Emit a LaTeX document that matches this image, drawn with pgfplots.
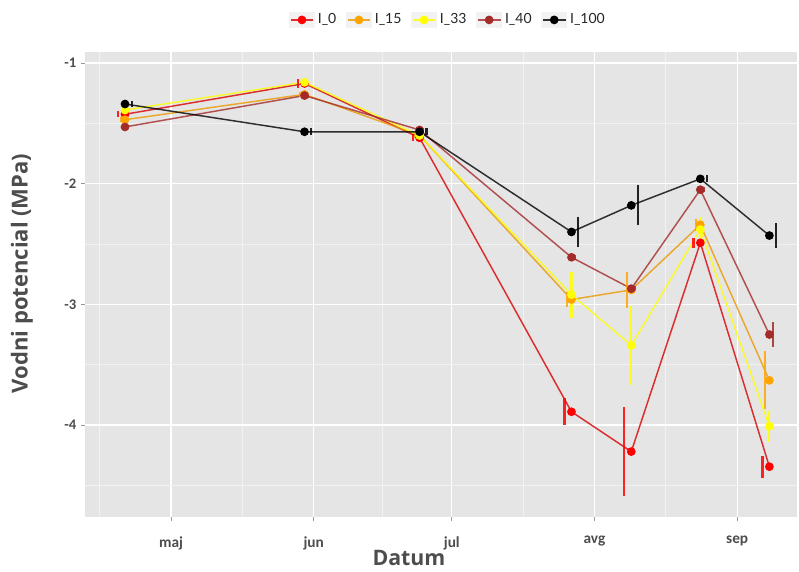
\documentclass[border=0pt]{standalone}
\usepackage{fontspec}
\setmainfont{Lato}
\newfontfamily\tickfont{Carlito}
\newfontfamily\titlefont{Open Sans}
\usepackage{pgfplots}
\pgfplotsset{compat=1.18}
\usepackage{pgfplotstable}

\definecolor{panel}{HTML}{E5E5E5}
\definecolor{minorg}{HTML}{F2F2F2}
\definecolor{txt}{HTML}{4D4D4D}
\definecolor{cRed}{HTML}{FF0000}
\definecolor{cOrange}{HTML}{FFA500}
\definecolor{cYellow}{HTML}{FFFF00}
\definecolor{cBrown}{HTML}{A52A2A}
\definecolor{cBlack}{HTML}{000000}

% day = days since 1 May; eday = dodged position of the error bar
\pgfplotstableread{
day val err eday
-10 -1.425 0.025 -11.5
29 -1.17 0.035 27.5
54 -1.62 0.03 52.5
87 -3.89 0.11 85.5
100 -4.22 0.37 98.5
115 -2.49 0.04 113.5
130 -4.345 0.09 128.5
}\tRed
\pgfplotstableread{
day val err eday
-10 -1.47 0.02 -10.9
29 -1.26 0.02 28.1
54 -1.60 0.02 53.1
87 -2.96 0.06 86.1
100 -2.88 0.15 99.1
115 -2.34 0.05 114.1
130 -3.63 0.24 129.1
}\tOrange
\pgfplotstableread{
day val err eday
-10 -1.39 0.02 -10
29 -1.16 0.02 29
54 -1.60 0.02 54
87 -2.92 0.19 87
100 -3.34 0.33 100
115 -2.38 0.10 115
130 -4.01 0.13 130
}\tYellow
\pgfplotstableread{
day val err eday
-10 -1.53 0.02 -9.3
29 -1.27 0.02 29.7
54 -1.555 0.02 54.7
87 -2.61 0.02 87.7
100 -2.87 0.02 100.7
115 -2.05 0.02 115.7
130 -3.25 0.10 130.7
}\tBrown
\pgfplotstableread{
day val err eday
-10 -1.34 0.025 -8.5
29 -1.57 0.03 30.5
54 -1.57 0.03 55.5
87 -2.40 0.123 88.5
100 -2.18 0.166 101.5
115 -1.96 0.03 116.5
130 -2.43 0.105 131.5
}\tBlack

\begin{document}
\begin{tikzpicture}
\begin{axis}[
  scale only axis, width=534pt, height=348.75pt,
  xmin=-18.69, xmax=136.0, ymin=-4.762, ymax=-0.909,
  axis background/.style={fill=panel},
  axis line style={draw=none},
  xtick={0,31,61,92,123}, xticklabels={maj,jun,jul,avg,sep},
  ytick={-4,-3,-2,-1}, yticklabels={-4,-3,-2,-1},
  minor xtick={-15.5,15.5,46,76.5,107.5},
  minor ytick={-4.5,-3.5,-2.5,-1.5},
  grid=both,
  major grid style={white, line width=1pt},
  minor grid style={minorg, line width=0.5pt},
  tick align=outside, xtick pos=lower, ytick pos=left,
  major tick length=3pt, minor tick length=0pt,
  tick style={color=gray!80, line width=0.6pt},
  yticklabel style={font=\tickfont\bfseries\fontsize{11}{13}\selectfont, text=txt},
  xticklabel style={font=\tickfont\bfseries\fontsize{11.5}{13}\selectfont, text=txt, yshift=-8pt},
  xlabel={Datum}, ylabel={Vodni potencial (MPa)},
  xlabel style={font=\titlefont\bfseries\fontsize{16}{18}\selectfont, text=txt, at={(axis description cs:0.455,-0.089)}, anchor=center},
  ylabel style={font=\titlefont\bfseries\fontsize{16.5}{18}\selectfont, text=txt, at={(axis description cs:-0.0885,0.524)}, anchor=center},
  legend style={at={(axis description cs:0.51,1.069)}, anchor=center, legend columns=5, draw=none, fill=none,
    font=\fontsize{10.5}{12}\selectfont, text=black!85,
    /tikz/every even column/.append style={column sep=5pt}},
  legend image code/.code={\fill[black!5] (-0.03cm,-0.2cm) rectangle (0.63cm,0.2cm);
    \draw[mark repeat=2,mark phase=2,#1] plot coordinates {(0cm,0cm)(0.3cm,0cm)(0.6cm,0cm)};},
  every axis plot/.append style={line width=1.1pt},
  clip=false,
]
% lines with points
\addplot[color=cRed!85!black, draw opacity=0.8, mark=*, mark size=2.7pt, mark options={fill=cRed, draw=cRed, opacity=1}] table[x=day,y=val]{\tRed};
\addlegendentry{I\_0}
\addplot[color=cOrange!92!black, draw opacity=0.8, mark=*, mark size=2.7pt, mark options={fill=cOrange, draw=cOrange, opacity=1}] table[x=day,y=val]{\tOrange};
\addlegendentry{I\_15}
\addplot[color=cYellow, draw opacity=0.8, mark=*, mark size=2.7pt, mark options={fill=cYellow, draw=cYellow, opacity=1}] table[x=day,y=val]{\tYellow};
\addlegendentry{I\_33}
\addplot[color=cBrown, draw opacity=0.8, mark=*, mark size=2.7pt, mark options={fill=cBrown, draw=cBrown, opacity=1}] table[x=day,y=val]{\tBrown};
\addlegendentry{I\_40}
\addplot[color=cBlack, draw opacity=0.8, mark=*, mark size=2.7pt, mark options={fill=cBlack, draw=cBlack, opacity=1}] table[x=day,y=val]{\tBlack};
\addlegendentry{I\_100}
% dodged error bars
\addplot[forget plot, draw=none, mark=none, error bars/.cd, y dir=both, y explicit, error mark=none, error bar style={draw=cRed, line width=1.6pt, draw opacity=0.85}] table[x=eday,y=val,y error=err]{\tRed};
\addplot[forget plot, draw=none, mark=none, error bars/.cd, y dir=both, y explicit, error mark=none, error bar style={draw=cOrange, line width=1.6pt, draw opacity=0.85}] table[x=eday,y=val,y error=err]{\tOrange};
\addplot[forget plot, draw=none, mark=none, error bars/.cd, y dir=both, y explicit, error mark=none, error bar style={draw=cYellow, line width=1.6pt, draw opacity=0.85}] table[x=eday,y=val,y error=err]{\tYellow};
\addplot[forget plot, draw=none, mark=none, error bars/.cd, y dir=both, y explicit, error mark=none, error bar style={draw=cBrown, line width=1.6pt, draw opacity=0.85}] table[x=eday,y=val,y error=err]{\tBrown};
\addplot[forget plot, draw=none, mark=none, error bars/.cd, y dir=both, y explicit, error mark=none, error bar style={draw=cBlack, line width=1.6pt, draw opacity=0.85}] table[x=eday,y=val,y error=err]{\tBlack};
\end{axis}
\pgfresetboundingbox
\path[use as bounding box] ([xshift=-63.75pt,yshift=-40.5pt]current axis.south west) rectangle ([xshift=1.5pt,yshift=39pt]current axis.north east);
\end{tikzpicture}
\end{document}
